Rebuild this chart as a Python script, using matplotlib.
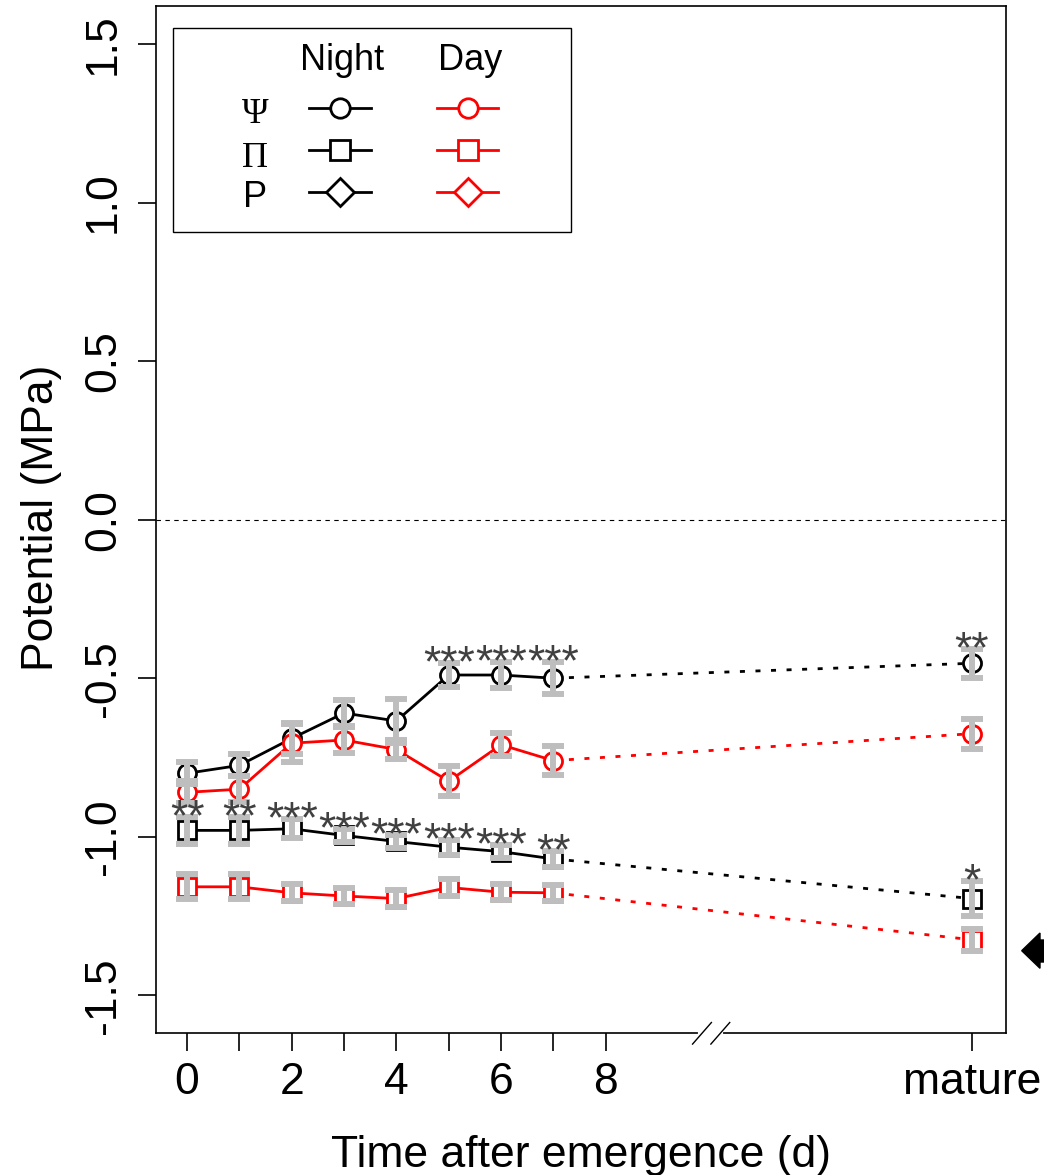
import numpy as np
import matplotlib.pyplot as plt
from matplotlib.patches import Rectangle, Polygon

plt.rcParams['font.family'] = ['Liberation Sans', 'DejaVu Sans']

# data (MPa), days 0..7 plus the "mature" point
days = [0, 1, 2, 3, 4, 5, 6, 7]
mature_x = 15

night_psi = [-0.80, -0.775, -0.69, -0.61, -0.635, -0.49, -0.49, -0.50]
night_psi_err = [0.035, 0.035, 0.05, 0.04, 0.07, 0.037, 0.042, 0.05]
night_psi_mat, night_psi_mat_err = -0.453, 0.046

day_psi = [-0.86, -0.85, -0.705, -0.695, -0.725, -0.825, -0.71, -0.76]
day_psi_err = [0.035, 0.04, 0.06, 0.04, 0.03, 0.047, 0.037, 0.045]
day_psi_mat, day_psi_mat_err = -0.675, 0.047

night_pi = [-0.98, -0.98, -0.975, -0.996, -1.015, -1.033, -1.047, -1.07]
night_pi_err = [0.042, 0.042, 0.03, 0.021, 0.02, 0.024, 0.02, 0.025]
night_pi_mat, night_pi_mat_err = -1.195, 0.055

day_pi = [-1.158, -1.158, -1.177, -1.187, -1.195, -1.16, -1.175, -1.177]
day_pi_err = [0.04, 0.04, 0.027, 0.026, 0.028, 0.026, 0.026, 0.026]
day_pi_mat, day_pi_mat_err = -1.325, 0.035

# significance marks (night vs day)
psi_stars = ['', '', '', '', '', '***', '***', '***']
psi_stars_mat = '**'
pi_stars = ['**', '**', '***', '***', '***', '***', '***', '**']
pi_stars_mat = '*'

W, H = 1044, 1175
fig = plt.figure(figsize=(W / 100, H / 100), dpi=100)
L, R, T, B = 155.7, 1006, 6, 1033.3
ax = fig.add_axes([L / W, 1 - B / H, (R - L) / W, (B - T) / H])

def axf(px, py):
    # pixel position -> axes fraction (used for the hand-built legend)
    return (px - L) / (R - L), (B - py) / (B - T)

grey = '#BEBEBE'
dot = (0, (1.8, 3.8))

series = [
    (night_psi, night_psi_err, night_psi_mat, night_psi_mat_err, 'black', 'o', 13),
    (day_psi, day_psi_err, day_psi_mat, day_psi_mat_err, 'red', 'o', 13),
    (night_pi, night_pi_err, night_pi_mat, night_pi_mat_err, 'black', 's', 13),
    (day_pi, day_pi_err, day_pi_mat, day_pi_mat_err, 'red', 's', 13),
]

for mean, err, mat, mat_err, col, mk, ms in series:
    ax.plot(days, mean, color=col, lw=2.0, marker=mk, ms=ms, mfc='white',
            mec=col, mew=2.0, zorder=3)
    ax.plot([days[-1], mature_x], [mean[-1], mat], color=col, lw=2.0,
            ls=dot, zorder=2)
    ax.plot([mature_x], [mat], color=col, marker=mk, ms=ms, mfc='white',
            mec=col, mew=2.0, ls='none', zorder=3)
    ax.errorbar(days + [mature_x], mean + [mat], yerr=err + [mat_err],
                fmt='none', ecolor=grey, elinewidth=4.3, capsize=8,
                capthick=4.3, zorder=4)

def put_stars(mean, err, stars, mat, mat_err, mstar):
    for x, m, e, s in zip(days + [mature_x], mean + [mat], err + [mat_err],
                          stars + [mstar]):
        if s:
            ax.text(x, m + e - 0.042, s, ha='center', va='baseline',
                    fontsize=32, color='#404040', zorder=5)

put_stars(night_psi, night_psi_err, psi_stars, night_psi_mat,
          night_psi_mat_err, psi_stars_mat)
put_stars(night_pi, night_pi_err, pi_stars, night_pi_mat,
          night_pi_mat_err, pi_stars_mat)

ax.axhline(0, color='black', lw=0.8, ls=(0, (4, 4)), zorder=1)

ax.set_xlim(-0.6, 15.65)
ax.set_ylim(-1.62, 1.62)

xticks = [0, 1, 2, 3, 4, 5, 6, 7, 8, mature_x]
xlabels = ['0', '', '2', '', '4', '', '6', '', '8', 'mature']
ax.set_xticks(xticks)
ax.set_xticklabels(xlabels)
yticks = [1.5, 1.0, 0.5, 0.0, -0.5, -1.0, -1.5]
ax.set_yticks(yticks)
ax.set_yticklabels([f'{v:.1f}' for v in yticks], rotation=90, va='center')
ax.tick_params(length=13, width=1.2, labelsize=32, direction='out')
ax.tick_params(axis='x', pad=8)
ax.tick_params(axis='y', pad=10)
for sp in ax.spines.values():
    sp.set_linewidth(1.2)

# axis break on the bottom spine
ylo = ax.get_ylim()[0]
ax.plot([9.8, 10.2], [ylo, ylo], color='white', lw=3, clip_on=False, zorder=6)
for xc in (9.84, 10.19):
    ax.plot([xc - 0.18, xc + 0.18], [ylo - 0.034, ylo + 0.034], color='black',
            lw=1, clip_on=False, zorder=7)

# legend drawn by hand
x0, y0 = axf(172.7, 231.7)
x1, y1 = axf(571, 28.3)
ax.add_patch(Rectangle((x0, y0), x1 - x0, y1 - y0, transform=ax.transAxes,
                       fill=False, ec='black', lw=1.0, zorder=6))
for txt, px in (('Night', 341.7), ('Day', 470)):
    ax.text(*axf(px, 70), txt, transform=ax.transAxes, ha='center',
            va='baseline', fontsize=26)
rows = [('\u03a8', 123, 108.3, 'o', 14, 'Liberation Serif'),
        ('\u03a0', 166.7, 150, 's', 14, 'Liberation Serif'),
        ('P', 206.7, 191.7, 'D', 14, 'Liberation Sans')]
for sym, base, yc, mk, ms, fam in rows:
    ax.text(*axf(255, base), sym, transform=ax.transAxes, ha='center',
            va='baseline', fontsize=26, family=fam)
    for col, xa, xb in (('black', 309, 370.7), ('red', 437.3, 498.3)):
        xs = [axf(xa, yc)[0], axf(xb, yc)[0]]
        yy = axf(xa, yc)[1]
        ax.plot(xs, [yy, yy], color=col, lw=2.0, transform=ax.transAxes,
                zorder=7)
        ax.plot([sum(xs) / 2], [yy], color=col, marker=mk, ms=ms, mfc='white',
                mec=col, mew=2.0, transform=ax.transAxes, zorder=8)

fig.text(42 / W, 1 - 518 / H, 'Potential (MPa)', rotation=90, ha='center',
         va='center', fontsize=32)
fig.text((L + R) / 2 / W, 1 - 1166.7 / H, 'Time after emergence (d)',
         ha='center', va='baseline', fontsize=32)

# black arrow head at the right edge
arrow = [(1021.7, 950.7), (1040, 933), (1040, 940), (1046, 940),
         (1046, 962), (1040, 962), (1040, 968.3)]
fig.patches.append(Polygon([(px / W, 1 - py / H) for px, py in arrow],
                           closed=True, transform=fig.transFigure,
                           fc='black', ec='black'))

fig.savefig('out.png', dpi=100)
